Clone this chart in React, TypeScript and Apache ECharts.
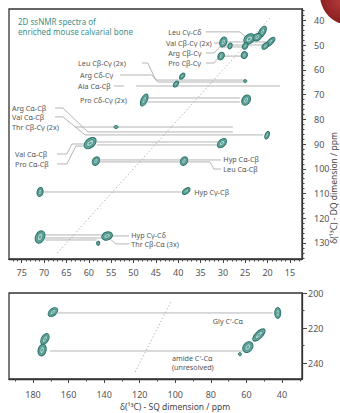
import React, { useEffect, useRef } from 'react';
import * as echarts from 'echarts';

// ---------- axis ticks ----------
const sqTopMajor = [75, 70, 65, 60, 55, 50, 45, 40, 35, 30, 25, 20, 15];
const sqTopMinor = [13, 14, 16, 17, 18, 19, 21, 22, 23, 24, 26, 27, 28, 29, 31, 32, 33, 34, 36, 37, 38, 39, 41, 42, 43, 44, 46, 47, 48, 49, 51, 52, 53, 54, 56, 57, 58, 59, 61, 62, 63, 64, 66, 67, 68, 69, 71, 72, 73, 74, 76, 77];
const dqTopMajor = [40, 50, 60, 70, 80, 90, 100, 110, 120, 130];
const dqTopMinor = [36, 38, 42, 44, 46, 48, 52, 54, 56, 58, 62, 64, 66, 68, 72, 74, 76, 78, 82, 84, 86, 88, 92, 94, 96, 98, 102, 104, 106, 108, 112, 114, 116, 118, 122, 124, 126, 128, 132, 134, 136];
const sqBotMajor = [180, 160, 140, 120, 100, 80, 60, 40];
const sqBotMinor = [190, 170, 150, 130, 110, 90, 70, 50, 30];
const dqBotMajor = [200, 220, 240];
const dqBotMinor = [210, 230];

// ---------- peaks: [SQ ppm, DQ ppm, major width ppm, minor width ppm, tilt deg] ----------
const peaksAliphatic = [
  [21.2, 44.7, 2.9, 1.35, 60],
  [24.1, 47.5, 2.7, 2.0, 40],
  [22.3, 46.7, 2.0, 1.55, 40],
  [19.4, 48.7, 2.7, 1.1, 45],
  [20.5, 50.3, 1.8, 1.1, 45],
  [25.0, 50.3, 1.55, 1.1, 60],
  [25.2, 54.0, 1.55, 1.35, 60],
  [29.9, 48.7, 2.25, 1.55, 70],
  [28.4, 50.3, 1.35, 0.9, 70],
  [30.4, 54.4, 1.8, 1.35, 60],
  [39.1, 62.5, 1.55, 0.9, 50],
  [40.5, 65.7, 1.55, 0.9, 50],
  [25.0, 64.5, 0.7, 0.7, 0],
  [47.6, 72.2, 2.9, 1.35, 65],
  [24.8, 72.2, 2.45, 1.8, 60],
  [20.1, 86.4, 1.8, 0.9, 70],
  [53.9, 83.1, 0.9, 0.7, 0],
  [59.7, 89.6, 3.1, 2.0, 40],
  [30.2, 89.6, 2.45, 1.55, 45],
  [58.4, 96.9, 2.0, 1.55, 60],
  [38.7, 96.9, 2.0, 1.55, 60],
  [70.9, 109.4, 2.0, 1.35, 80],
  [38.2, 109.0, 2.0, 1.1, 40],
  [70.9, 127.6, 2.9, 2.0, 65],
  [55.9, 127.2, 2.45, 1.8, 20],
  [57.9, 130.1, 0.9, 0.7, 80],
];
const peaksCarbonyl = [
  [168.8, 210.9, 6.2, 3.9, 40],
  [42.4, 211.4, 6.2, 3.4, 90],
  [173.3, 226.3, 6.7, 3.9, 60],
  [174.9, 232.6, 6.7, 4.5, 75],
  [59.2, 230.9, 6.7, 5.1, 50],
  [53.0, 224.0, 9.0, 3.9, 45],
  [63.7, 234.9, 1.7, 1.7, 0],
];

// ---------- connector / leader lines (SQ, DQ) ----------
const linksAliphatic = [
  [[33.8, 44.6], [26.2, 44.6], [24.8, 46.7]],
  [[32.0, 49.1], [30.4, 49.1]],
  [[30.0, 48.7], [19.5, 48.7]],
  [[30.0, 49.9], [20.6, 49.9]],
  [[33.8, 53.15], [32.0, 53.15], [30.7, 50.7], [25.1, 50.7]],
  [[33.8, 57.2], [32.0, 57.2], [30.7, 54.4], [25.3, 54.4]],
  [[48.1, 57.2], [46.8, 57.2], [45.0, 64.1], [25.1, 64.1]],
  [[53.0, 62.05], [45.9, 62.05], [44.5, 64.9], [25.1, 64.9]],
  [[54.4, 66.5], [52.1, 66.5]],
  [[49.4, 66.5], [17.2, 66.5]],
  [[46.8, 71.35], [26.2, 71.35]],
  [[46.8, 72.97], [26.2, 72.97]],
  [[63.1, 83.1], [27.75, 83.1]],
  [[67.55, 75.4], [65.8, 75.4], [60.2, 85.1], [27.75, 85.1]],
  [[67.55, 79.0], [65.8, 79.0], [60.85, 86.3], [21.0, 86.3]],
  [[58.2, 89.15], [31.1, 89.15]],
  [[58.2, 90.36], [31.1, 90.36]],
  [[67.1, 94.0], [64.9, 94.0], [63.75, 89.96], [61.1, 89.96]],
  [[67.1, 98.05], [64.9, 98.05], [62.9, 90.8], [61.1, 90.8]],
  [[57.5, 96.43], [30.4, 96.43]],
  [[57.5, 97.24], [32.9, 97.24], [32.0, 100.1], [30.4, 100.1]],
  [[70.0, 109.38], [39.4, 109.38]],
  [[69.8, 126.77], [57.0, 126.77]],
  [[69.8, 127.99], [57.0, 127.99]],
  [[69.8, 128.8], [58.2, 128.8]],
  [[54.8, 127.18], [51.0, 127.18]],
  [[51.0, 130.4], [53.9, 130.4], [55.0, 128.8]],
];
const linksCarbonyl = [
  [[166.2, 211.4], [45.2, 211.4]],
  [[170.4, 233.1], [62.0, 233.1]],
];
const diagonalAliphatic = [[67, 134], [19.5, 39]];
const diagonalCarbonyl = [[122.5, 245], [102, 204]];

// ---------- assignment labels ----------
const labelTextAliphatic = [
  'Leu Cγ-Cδ', 'Val Cβ-Cγ (2x)', 'Arg Cβ-Cγ', 'Pro Cβ-Cγ',
  'Leu Cβ-Cγ (2x)', 'Arg Cδ-Cγ', 'Ala Cα-Cβ', 'Pro Cδ-Cγ (2x)',
  'Arg Cα-Cβ', 'Val Cα-Cβ', 'Thr Cβ-Cγ (2x)',
  'Val Cα-Cβ', 'Pro Cα-Cβ', 'Hyp Cα-Cβ', 'Leu Cα-Cβ', 'Hyp Cγ-Cβ',
  'Hyp Cγ-Cδ', 'Thr Cβ-Cα (3x)',
];
const labelPosAliphatic = [
  [42.25, 44.65], [42.7, 49.1], [42.25, 53.15], [42.25, 57.2],
  [62.4, 57.2], [61.95, 62.05], [62.4, 66.5], [61.95, 72.2],
  [77.17, 75.4], [77.17, 79.05], [77.17, 83.1],
  [76.5, 94.0], [76.5, 98.05], [29.9, 96.2], [29.9, 100.1], [36.4, 109.4],
  [50.5, 126.8], [50.5, 130.4],
];
const labelTextCarbonyl = ['Gly C′-Cα', 'amide C′-Cα', '(unresolved)'];
const labelPosCarbonyl = [[78.9, 216.0], [101.9, 237.1], [101.9, 242.3]];

const FONT = '"Noto Sans", "DejaVu Sans", sans-serif';

function peakRender(_params: any, api: any) {
  const c = api.coord([api.value(0), api.value(1)]);
  const a = api.size([api.value(2), 0])[0] / 2;
  const b = api.size([api.value(3), 0])[0] / 2;
  const rot = (api.value(4) * Math.PI) / 180;
  const children: any[] = [
    { type: 'ellipse', shape: { cx: 0, cy: 0, rx: a, ry: b }, style: { fill: '#63a69d', stroke: '#2b7269', lineWidth: 1 } },
  ];
  if (a > 2.5) {
    children.push({ type: 'ellipse', shape: { cx: 0, cy: 0, rx: a * 0.62, ry: b * 0.55 }, style: { fill: '#acd3cd', stroke: '#3d887f', lineWidth: 0.8 } });
    children.push({ type: 'ellipse', shape: { cx: 0, cy: 0, rx: a * 0.26, ry: b * 0.22 }, style: { fill: '#5a9f96' } });
  }
  return { type: 'group', x: c[0], y: c[1], rotation: rot, children };
}

function makeLabelRender(texts: string[]) {
  return (params: any, api: any) => {
    const c = api.coord([api.value(0), api.value(1)]);
    return {
      type: 'text',
      x: c[0],
      y: c[1],
      style: {
        text: texts[params.dataIndex],
        fill: '#555',
        font: `7.2px ${FONT}`,
        textAlign: 'left',
        textVerticalAlign: 'middle',
        align: 'left',
        verticalAlign: 'middle',
      },
    };
  };
}

const lineSeries = (pts: number[][], xi: number, yi: number, dotted = false) => ({
  type: 'line',
  xAxisIndex: xi,
  yAxisIndex: yi,
  data: pts,
  symbol: 'none',
  silent: true,
  z: 1,
  lineStyle: dotted
    ? { color: '#9a9a9a', width: 1, type: [1, 2.5] }
    : { color: '#ababab', width: 0.9 },
});

const axisBase = (gridIndex: number, min: number, max: number, major: boolean, vals: number[], pos: string, margin: number, tickLen: number) => ({
  type: 'value',
  gridIndex,
  min,
  max,
  inverse: true,
  position: pos,
  axisLine: { show: major, lineStyle: { color: '#333', width: 1.3 } },
  axisTick: { show: true, inside: false, length: tickLen, customValues: vals, lineStyle: { color: '#444', width: 1 } },
  axisLabel: major
    ? { show: true, customValues: vals, margin, fontSize: 9, color: '#555', fontFamily: FONT }
    : { show: false },
  splitLine: { show: false },
});

export default function App() {
  const ref = useRef<HTMLDivElement>(null);
  useEffect(() => {
    if (!ref.current) return;
    const chart = echarts.init(ref.current, undefined, { renderer: 'svg' });
    const series: any[] = [];
    linksAliphatic.forEach((p) => series.push(lineSeries(p, 0, 0)));
    linksCarbonyl.forEach((p) => series.push(lineSeries(p, 2, 2)));
    series.push(lineSeries(diagonalAliphatic, 0, 0, true));
    series.push(lineSeries(diagonalCarbonyl, 2, 2, true));
    series.push({ type: 'custom', xAxisIndex: 0, yAxisIndex: 0, data: peaksAliphatic, renderItem: peakRender, z: 3, silent: true });
    series.push({ type: 'custom', xAxisIndex: 2, yAxisIndex: 2, data: peaksCarbonyl, renderItem: peakRender, z: 3, silent: true });
    series.push({ type: 'custom', xAxisIndex: 0, yAxisIndex: 0, data: labelPosAliphatic, renderItem: makeLabelRender(labelTextAliphatic), z: 4, silent: true });
    series.push({ type: 'custom', xAxisIndex: 2, yAxisIndex: 2, data: labelPosCarbonyl, renderItem: makeLabelRender(labelTextCarbonyl), z: 4, silent: true });

    chart.setOption({
      animation: false,
      backgroundColor: '#fff',
      grid: [
        { left: 9, top: 9, width: 293, height: 250, show: true, borderColor: '#333', borderWidth: 1.3, backgroundColor: 'transparent' },
        { left: 9, top: 293, width: 293, height: 86, show: true, borderColor: '#333', borderWidth: 1.3, backgroundColor: 'transparent' },
      ],
      xAxis: [
        axisBase(0, 12.3, 77.85, true, sqTopMajor, 'bottom', 9, 4),
        axisBase(0, 12.3, 77.85, false, sqTopMinor, 'bottom', 9, 2.5),
        axisBase(1, 28.76, 193.5, true, sqBotMajor, 'bottom', 11, 4),
        axisBase(1, 28.76, 193.5, false, sqBotMinor, 'bottom', 11, 2.5),
      ],
      yAxis: [
        axisBase(0, 35.35, 136.5, true, dqTopMajor, 'right', 12, 4),
        axisBase(0, 35.35, 136.5, false, dqTopMinor, 'right', 12, 2.5),
        axisBase(1, 200, 249.1, true, dqBotMajor, 'right', 6, 5),
        axisBase(1, 200, 249.1, false, dqBotMinor, 'right', 6, 2.5),
      ],
      graphic: [
        {
          type: 'circle',
          shape: { cx: 350, cy: -5, r: 30 },
          z: 0,
          style: {
            fill: new echarts.graphic.RadialGradient(0.35, 0.6, 0.8, [
              { offset: 0, color: '#b23a3a' },
              { offset: 0.6, color: '#7e1518' },
              { offset: 1, color: '#4a070a' },
            ]),
          },
        },
        {
          type: 'text',
          left: 18,
          top: 16,
          style: { text: '2D ssNMR spectra of\nenriched mouse calvarial bone', fill: '#3d918a', font: `8px ${FONT}`, lineHeight: 10.6 },
        },
        {
          type: 'text',
          x: 333,
          y: 188,
          rotation: Math.PI / 2,
          style: { text: 'δ(¹³C) - DQ dimension / ppm', fill: '#444', font: `8.5px ${FONT}`, textAlign: 'center', textVerticalAlign: 'middle', align: 'center', verticalAlign: 'middle' },
        },
        {
          type: 'text',
          x: 175,
          y: 406,
          style: { text: 'δ(¹³C) - SQ dimension / ppm', fill: '#444', font: `8.5px ${FONT}`, textAlign: 'center', textVerticalAlign: 'middle', align: 'center', verticalAlign: 'middle' },
        },
      ],
      series,
    });
    return () => chart.dispose();
  }, []);
  return <div ref={ref} style={{ position: 'fixed', left: 0, top: 0, width: 340, height: 413 }} />;
}
